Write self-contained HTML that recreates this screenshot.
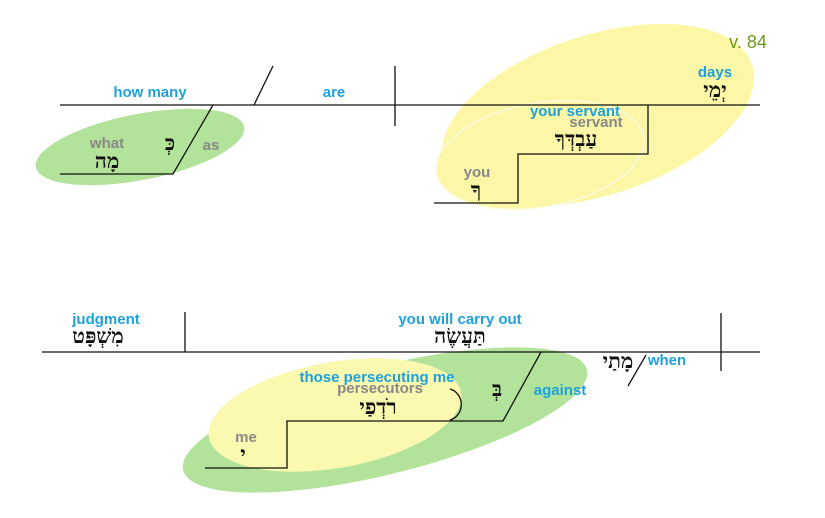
<!DOCTYPE html>
<html><head><meta charset="utf-8"><style>
html,body{margin:0;padding:0;background:#fff;width:825px;height:518px;overflow:hidden}
text{font-family:"Liberation Sans",Arial,sans-serif;font-weight:bold;font-size:15px;text-anchor:middle}
.b{fill:#1ea1dc}.g{fill:#888}.h{fill:#111;font-family:"Liberation Serif","DejaVu Serif",serif;font-size:21px;font-weight:bold}
</style></head><body>
<svg width="825" height="518" viewBox="0 0 825 518" xmlns="http://www.w3.org/2000/svg">
<ellipse cx="140" cy="147" rx="106" ry="33" transform="rotate(-11 140 147)" fill="#b3e39b"/>
<ellipse cx="598" cy="115" rx="162" ry="80" transform="rotate(-18 598 115)" fill="#fbf7a6"/>
<ellipse cx="540" cy="155" rx="105" ry="52" transform="rotate(-10 540 155)" fill="#fbf7a6" stroke="#fdfbe0" stroke-width="1.5"/>
<ellipse cx="385" cy="420" rx="208" ry="54" transform="rotate(-14 385 420)" fill="#b3e39b"/>
<ellipse cx="335" cy="415" rx="128" ry="53" transform="rotate(-10 335 415)" fill="#fbf8b0"/>
<g stroke="#111" stroke-width="1.3" fill="none">
<line x1="60" y1="105" x2="760" y2="105"/>
<line x1="254" y1="105" x2="273" y2="66"/>
<line x1="395" y1="66" x2="395" y2="126"/>
<polyline points="60,174 173,174 213,105"/>
<polyline points="434,203 518,203 518,154 648,154 648,105"/>
<line x1="42" y1="352" x2="760" y2="352"/>
<line x1="185" y1="312" x2="185" y2="352"/>
<line x1="721" y1="313" x2="721" y2="371"/>
<line x1="646" y1="355" x2="628" y2="386"/>
<polyline points="205,468 287,468 287,421 503,421 541,352"/>
<path d="M450,389 A15,16 0 0 1 450,420"/>
</g>
<text x="150" y="97" class="b">how many</text>
<text x="334" y="97" class="b">are</text>
<text x="107" y="148" class="g">what</text>
<text x="107" y="168" class="h">מָה</text>
<text x="170" y="150" class="h">כְּ</text>
<text x="211" y="150" class="g">as</text>
<text x="748" y="48" style="fill:#6a9a1a;font-weight:normal;font-size:18px">v. 84</text>
<text x="715" y="77" class="b">days</text>
<text x="715" y="97" class="h">יְמֵי</text>
<text x="575" y="116" class="b">your servant</text>
<text x="596" y="127" class="g">servant</text>
<text x="576" y="146" class="h">עַבְדְּךָ</text>
<text x="477" y="177" class="g">you</text>
<text x="476" y="197" class="h">ךָ</text>
<text x="106" y="324" class="b">judgment</text>
<text x="98" y="343" class="h">מִשְׁפָּט</text>
<text x="460" y="324" class="b">you will carry out</text>
<text x="460" y="343" class="h">תַּעֲשֶׂה</text>
<text x="618" y="368" class="h">מָתַי</text>
<text x="667" y="365" class="b">when</text>
<text x="377" y="382" class="b">those persecuting me</text>
<text x="380" y="393" class="g">persecutors</text>
<text x="378" y="414" class="h">רֹדְפַי</text>
<text x="497" y="396" class="h">בְּ</text>
<text x="560" y="395" class="b">against</text>
<text x="246" y="442" class="g">me</text>
<text x="243" y="461" class="h">י</text>
</svg>
</body></html>
